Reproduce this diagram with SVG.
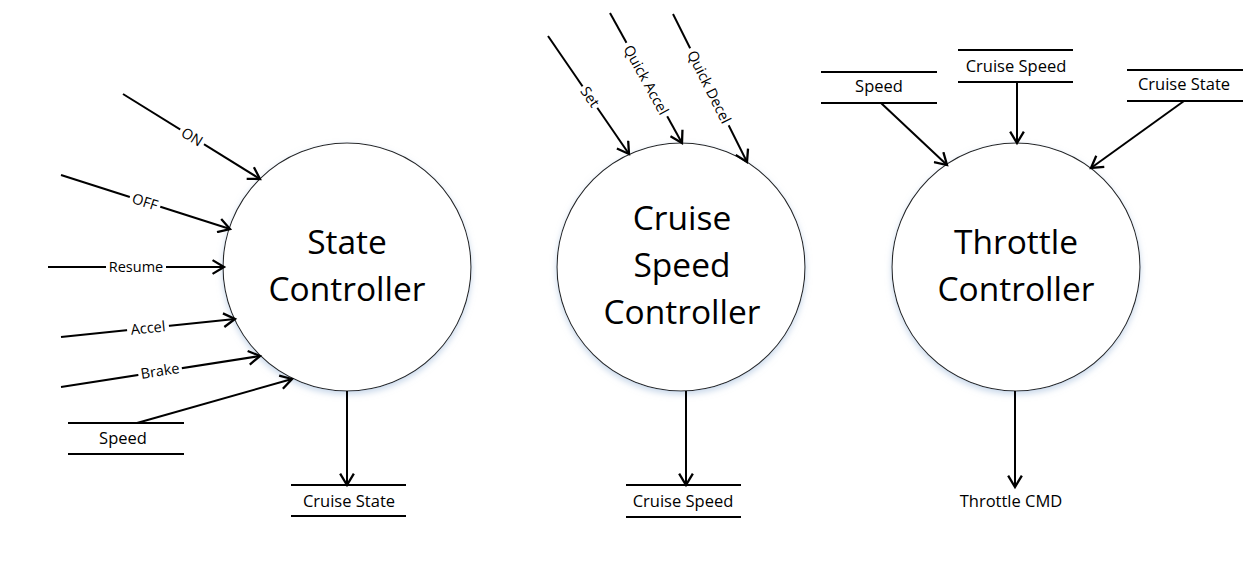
<svg xmlns="http://www.w3.org/2000/svg" width="1251" height="571" viewBox="0 0 1251 571">
<style>
.bg{fill:#ffffff}
.proc{fill:#ffffff;stroke:#262626;stroke-width:1.1;filter:url(#sh)}
.ptxt{font-family:"Open Sans","Liberation Sans",sans-serif;font-size:33.5px;fill:#000;text-anchor:middle}
.flow{stroke:#000;stroke-width:2;fill:none;marker-end:url(#arr)}
.store{stroke:#000;stroke-width:2}
.stxt{font-family:"Open Sans","Liberation Sans",sans-serif;font-size:16.5px;fill:#000;text-anchor:middle}
.etxt{font-family:"Open Sans","Liberation Sans",sans-serif;font-size:14.5px;fill:#000;text-anchor:middle}
.lbg{fill:#ffffff}
</style>
<defs>
<filter id="sh" x="-20%" y="-20%" width="140%" height="140%">
<feDropShadow dx="0" dy="3" stdDeviation="3" flood-color="#9db8d9" flood-opacity="0.55"/>
</filter>
<marker id="arr" markerUnits="userSpaceOnUse" markerWidth="16" markerHeight="16" refX="11" refY="7" orient="auto" viewBox="0 0 14 14">
<path d="M1,1 L11,7 L1,13" fill="none" stroke="#000" stroke-width="2"/>
</marker>
</defs>
<rect class="bg" x="0" y="0" width="1251" height="571"/>

<g id="state-controller">
<circle class="proc" cx="347" cy="267" r="124"/>
<text class="ptxt" x="347" y="254">State</text>
<text class="ptxt" x="347" y="301">Controller</text>
</g>
<g id="cruise-speed-controller">
<circle class="proc" cx="681" cy="267" r="124"/>
<text class="ptxt" x="682" y="230">Cruise</text>
<text class="ptxt" x="682" y="277">Speed</text>
<text class="ptxt" x="682" y="324">Controller</text>
</g>
<g id="throttle-controller">
<circle class="proc" cx="1016" cy="267" r="124"/>
<text class="ptxt" x="1016" y="254">Throttle</text>
<text class="ptxt" x="1016" y="301">Controller</text>
</g>

<g id="store-speed-1">
<line class="store" x1="68" y1="423" x2="184" y2="423"/>
<line class="store" x1="68" y1="454" x2="184" y2="454"/>
<text class="stxt" x="123" y="444">Speed</text>
</g>
<g id="store-cruise-state-out">
<line class="store" x1="291" y1="485" x2="406" y2="485"/>
<line class="store" x1="291" y1="516" x2="406" y2="516"/>
<text class="stxt" x="349" y="507">Cruise State</text>
</g>
<g id="store-cruise-speed-out">
<line class="store" x1="626" y1="485" x2="741" y2="485"/>
<line class="store" x1="626" y1="517" x2="741" y2="517"/>
<text class="stxt" x="683" y="507">Cruise Speed</text>
</g>
<g id="store-speed-2">
<line class="store" x1="821" y1="72" x2="937" y2="72"/>
<line class="store" x1="821" y1="103" x2="937" y2="103"/>
<text class="stxt" x="879" y="92">Speed</text>
</g>
<g id="store-cruise-speed-in">
<line class="store" x1="958" y1="50" x2="1073" y2="50"/>
<line class="store" x1="958" y1="82" x2="1073" y2="82"/>
<text class="stxt" x="1016" y="72">Cruise Speed</text>
</g>
<g id="store-cruise-state-in">
<line class="store" x1="1127" y1="70" x2="1243" y2="70"/>
<line class="store" x1="1127" y1="101" x2="1243" y2="101"/>
<text class="stxt" x="1184" y="90">Cruise State</text>
</g>
<g id="throttle-cmd">
<text class="stxt" x="1011" y="507">Throttle CMD</text>
</g>

<g id="connectors">
<line class="flow" x1="123" y1="94" x2="260" y2="179"/>
<line class="flow" x1="61" y1="175" x2="230" y2="229"/>
<line class="flow" x1="48" y1="267" x2="224" y2="267"/>
<line class="flow" x1="61" y1="337" x2="235" y2="319"/>
<line class="flow" x1="61" y1="387" x2="260" y2="356"/>
<line class="flow" x1="137" y1="423" x2="292" y2="379"/>
<line class="flow" x1="347" y1="391" x2="347" y2="485"/>

<line class="flow" x1="548" y1="36" x2="629" y2="154"/>
<line class="flow" x1="610" y1="13" x2="682" y2="143"/>
<line class="flow" x1="673" y1="14" x2="747" y2="162"/>
<line class="flow" x1="686" y1="391" x2="686" y2="485"/>

<line class="flow" x1="881" y1="103" x2="947" y2="165"/>
<line class="flow" x1="1017" y1="82" x2="1017" y2="143"/>
<line class="flow" x1="1184" y1="101" x2="1091" y2="168"/>
<line class="flow" x1="1015" y1="391" x2="1015" y2="487"/>

<g transform="translate(192,137) rotate(31.8)"><rect class="lbg" x="-14" y="-4" width="28" height="8"/><text class="etxt" x="0" y="5">ON</text></g>
<g transform="translate(145,202) rotate(17.7)"><rect class="lbg" x="-16" y="-4" width="32" height="8"/><text class="etxt" x="0" y="5">OFF</text></g>
<g transform="translate(136,267)"><rect class="lbg" x="-30" y="-4" width="60" height="8"/><text class="etxt" x="0" y="5">Resume</text></g>
<g transform="translate(148,328) rotate(-5.9)"><rect class="lbg" x="-21" y="-4" width="42" height="8"/><text class="etxt" x="0" y="5">Accel</text></g>
<g transform="translate(160,371) rotate(-8.9)"><rect class="lbg" x="-22" y="-4" width="44" height="8"/><text class="etxt" x="0" y="5">Brake</text></g>
<g transform="translate(590,97) rotate(55.5)"><rect class="lbg" x="-13" y="-4" width="26" height="8"/><text class="etxt" x="0" y="5">Set</text></g>
<g transform="translate(646,80) rotate(61)"><rect class="lbg" x="-42" y="-4" width="84" height="8"/><text class="etxt" x="0" y="5">Quick Accel</text></g>
<g transform="translate(709,87) rotate(63.4)"><rect class="lbg" x="-43" y="-4" width="86" height="8"/><text class="etxt" x="0" y="5">Quick Decel</text></g>
</g>
</svg>
